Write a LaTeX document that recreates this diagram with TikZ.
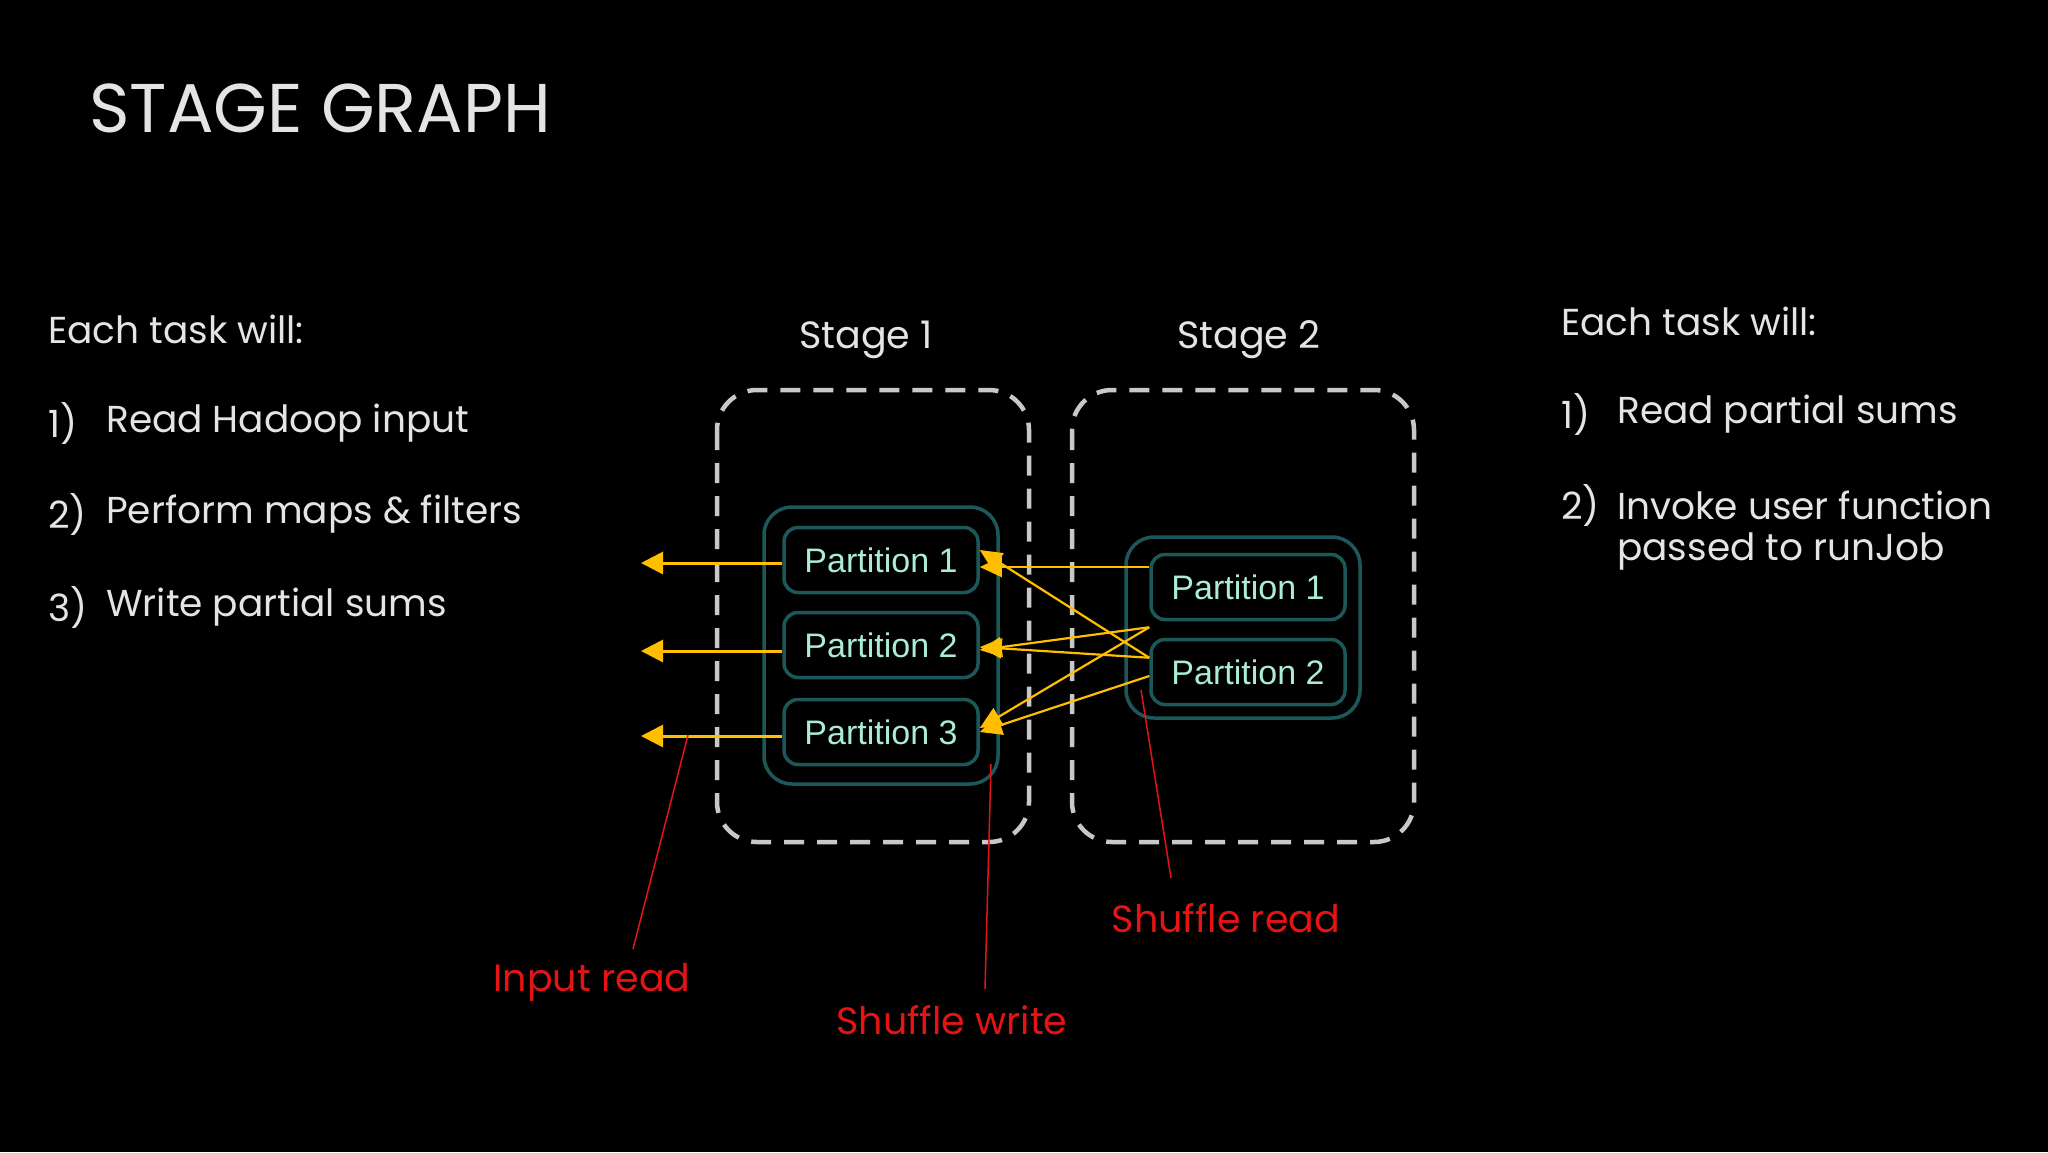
\documentclass[tikz,border=0pt]{standalone}
\usepackage{fontspec}
\setmainfont{Poppins}
\newfontfamily\arialf{Liberation Sans}
\usetikzlibrary{arrows.meta}
\definecolor{txt}{RGB}{228,228,228}
\definecolor{mint}{RGB}{170,236,212}
\definecolor{tealb}{RGB}{28,88,90}
\definecolor{yel}{RGB}{255,190,0}
\definecolor{redl}{RGB}{228,20,20}
\definecolor{dgray}{RGB}{200,200,200}
\tikzset{
  bodytext/.style={text=txt,font=\fontsize{37.5}{40}\selectfont,anchor=west,inner sep=0},
  stagebox/.style={draw=dgray,line width=4.5pt,dash pattern=on 20pt off 13pt,rounded corners=40pt},
  outerbox/.style={draw=tealb,line width=3.5pt,rounded corners=28pt},
  part/.style={draw=tealb,line width=3.5pt,rounded corners=14pt,minimum width=194pt,minimum height=65pt,text=mint,font=\arialf\fontsize{34}{36}\selectfont,inner sep=0},
  yarr/.style={draw=yel,line width=2.2pt,-{Triangle[length=22pt,width=20pt]}},
  yarrl/.style={draw=yel,line width=3pt,-{Triangle[length=22pt,width=22pt]}},
  redline/.style={draw=redl,line width=1.5pt},
  redtext/.style={text=redl,font=\fontsize{38}{40}\selectfont,inner sep=0}
}
\begin{document}
\begin{tikzpicture}[x=1pt,y=-1pt]
\fill[black] (0,0) rectangle (2048,1152);
\useasboundingbox (0,0) rectangle (2048,1152);
\node[text=txt,font=\fontsize{69}{72}\selectfont,anchor=west,inner sep=0] (title) at (89,108) {STAGE GRAPH};
% left text
\node[bodytext] (l0) at (48,329) {Each task will:};
\node[bodytext] (l1n) at (48,423) {1)};
\node[bodytext] (l1) at (106,423) {Read Hadoop input};
\node[bodytext] (l2n) at (48,514) {2)};
\node[bodytext] (l2) at (106,514) {Perform maps \& filters};
\node[bodytext] (l3n) at (48,607) {3)};
\node[bodytext] (l3) at (106,607) {Write partial sums};
% right text
\node[bodytext] (r0) at (1561,321) {Each task will:};
\node[bodytext] (r1n) at (1561,414) {1)};
\node[bodytext] (r1) at (1617,414) {Read partial sums};
\node[bodytext] (r2n) at (1561,505) {2)};
\node[bodytext] (r2) at (1617,505) {Invoke user function};
\node[bodytext] (r3) at (1617,551) {passed to runJob};
% stages
\node[text=txt,font=\fontsize{38}{40}\selectfont,inner sep=0] (s1) at (866,340) {Stage 1};
\node[text=txt,font=\fontsize{38}{40}\selectfont,inner sep=0] (s2) at (1249,340) {Stage 2};
\draw[stagebox] (717,390) rectangle (1029,842);
\draw[stagebox] (1072,390) rectangle (1414,842);
\draw[outerbox] (764,507) rectangle (998,784);
\draw[outerbox] (1126,537) rectangle (1360,718);
\node[part] (a1) at (881,560) {Partition 1};
\node[part] (a2) at (881,645) {Partition 2};
\node[part] (a3) at (881,732) {Partition 3};
\node[part] (b1) at (1248,587) {Partition 1};
\node[part] (b2) at (1248,672) {Partition 2};
% left arrows
\coordinate (t1) at (641,563);
\coordinate (t2) at (641,651);
\coordinate (t3) at (641,736);
\draw[yarrl] (a1.west |- t1) -- (t1);
\draw[yarrl] (a2.west |- t2) -- (t2);
\draw[yarrl] (a3.west |- t3) -- (t3);
% shuffle arrows
\draw[yarr] (b1.west |- 0,567) -- (a1.east |- 0,567);
\draw[yarr] ([yshift=-20pt]b2.north west) -- ([yshift=10pt]a1.east);
\draw[yarr] ([yshift=-6pt]b1.south west) -- ([yshift=-5pt]a2.east);
\draw[yarr] ([yshift=-6pt]b1.south west) -- ([yshift=4pt]a3.east);
\draw[yarr] ([yshift=-20pt]b2.north west) -- ([yshift=-2pt]a2.east);
\draw[yarr] ([yshift=-4pt]b2.west) -- ([yshift=0pt]a3.east);
% red annotations
\node[redtext] (ir) at (592,982) {Input read};
\node[redtext] (sw) at (952,1020) {Shuffle write};
\node[redtext] (sr) at (1226,918) {Shuffle read};
\coordinate (c1) at (688,735);
\coordinate (c2) at (991,764);
\coordinate (c3) at (1141,690);
\draw[redline] (c1) -- (633,949);
\draw[redline] (c2) -- (985,989);
\draw[redline] (c3) -- (1171,878);
\end{tikzpicture}
\end{document}
